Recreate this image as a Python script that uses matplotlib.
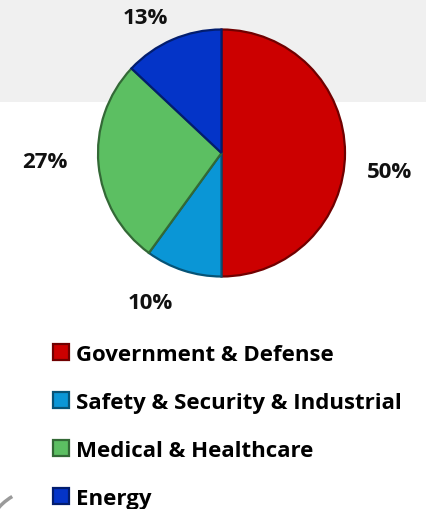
import matplotlib.pyplot as plt
from matplotlib.patches import Rectangle, Arc
from matplotlib.colors import to_rgb

# Data
categories = ["Government & Defense", "Safety & Security & Industrial",
              "Medical & Healthcare", "Energy"]
shares = [50, 10, 27, 13]
colors = ["#cc0000", "#0a96d6", "#5cbf62", "#0434c8"]

# label positions (data units of the pie axes, radius = 1)
label_pos = [(1.36, -0.15), (-0.58, -1.21), (-1.43, -0.065), (-0.62, 1.10)]

plt.rcParams['font.family'] = ['Open Sans', 'DejaVu Sans']

W, H = 426, 510
fig = plt.figure(figsize=(W / 100, H / 100), dpi=100)
fig.patch.set_facecolor('white')

# light grey band behind the top of the chart
fig.patches.append(Rectangle((0, 1 - 103 / H), 1, 103 / H, transform=fig.transFigure,
                             facecolor='#f0f0f0', edgecolor='none', zorder=-5))
fig.patches.append(Arc((40 / W, -35 / H), 110 / W, 110 / H, theta1=125, theta2=150,
                       transform=fig.transFigure, color='#9a9a9a', lw=2.5))

# pie axes
cx, cy, r = 221.5, 154, 123.5
ax = fig.add_axes([(cx - r) / W, (H - cy - r) / H, 2 * r / W, 2 * r / H])
ax.set_facecolor('none')


def darker(c, f=0.55):
    return tuple(v * f for v in to_rgb(c))


wedges, _ = ax.pie(shares, colors=colors, startangle=90, counterclock=False,
                   radius=1.0, wedgeprops=dict(linewidth=1.6))
for w, c in zip(wedges, colors):
    w.set_edgecolor(darker(c))

for v, (x, y) in zip(shares, label_pos):
    ax.text(x, y, f"{v}%", ha='center', va='center', fontsize=16,
            fontweight='bold', color='#111111', clip_on=False)

ax.set_xlim(-1, 1)
ax.set_ylim(-1, 1)
ax.set_aspect('equal')
ax.axis('off')

fig.legend(wedges, categories, loc='upper left',
           bbox_to_anchor=(53 / W, 1 - 345 / H), frameon=False,
           prop=dict(size=16, weight='bold'), handlelength=0.72, handleheight=0.72,
           handletextpad=0.32, labelspacing=1.21, borderpad=0, borderaxespad=0)

fig.savefig('out.png', dpi=100)
